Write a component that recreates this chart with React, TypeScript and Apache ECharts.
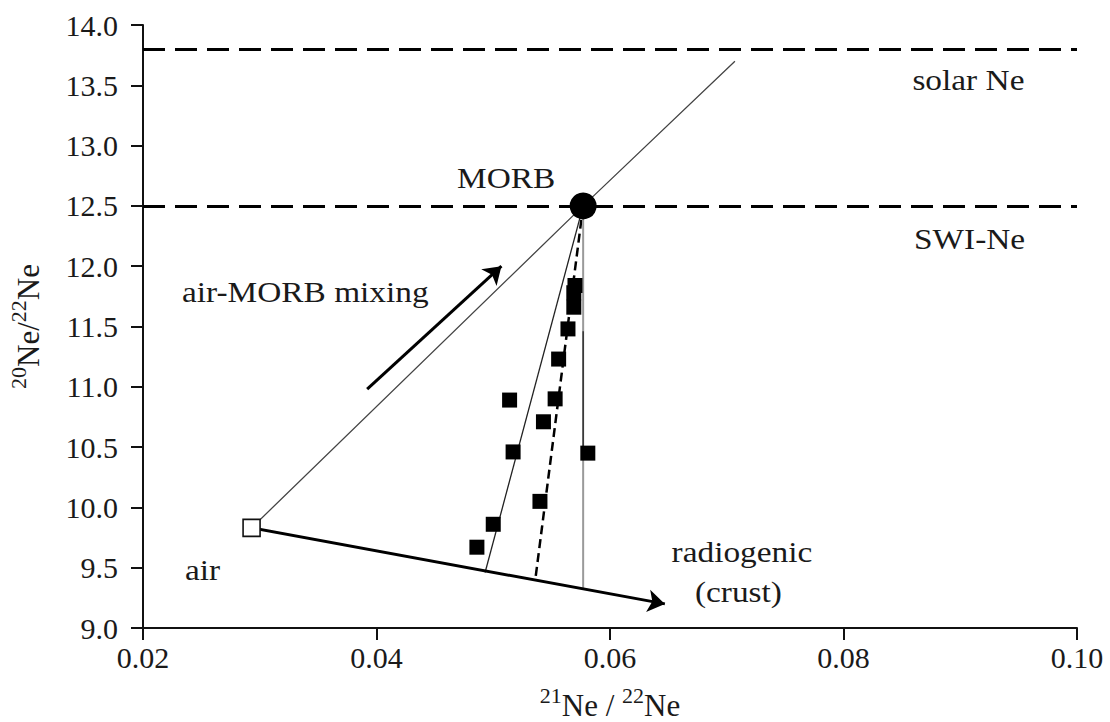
import React, { useEffect, useRef } from "react";
import * as echarts from "echarts";

const FONT = "Liberation Serif";
const TEXT = "#1a1a1a";

// Sample measurements: 21Ne/22Ne (x) and 20Ne/22Ne (y)
const sampleX = [0.057, 0.0569, 0.0569, 0.0564, 0.0556, 0.0553, 0.0514, 0.0543, 0.0517, 0.0581, 0.054, 0.05, 0.0486];
const sampleY = [11.84, 11.78, 11.66, 11.48, 11.23, 10.9, 10.89, 10.71, 10.46, 10.45, 10.05, 9.86, 9.67];

// End-members and reference lines
const morbPoint = [0.0577, 12.5];
const airPoint = [0.0293, 9.83];
const solarNe = 13.8;
const swiNe = 12.5;
const mixingLineEnd = [0.0707, 13.7];
const radiogenicArrowEnd = [0.0647, 9.2];
const mixingArrowStart = [0.0392, 10.98];
const mixingArrowEnd = [0.0507, 12.0];
const solidFanEnd = [0.0493, 9.46];
const dashedFanEnd = [0.0536, 9.4];
const greyFanEnd = [0.0577, 9.33];
const darkSegStart = [0.0577, 11.46];
const darkSegEnd = [0.0577, 10.48];

// Axes
const xMin = 0.02, xMax = 0.1, xStep = 0.02;
const yMin = 9, yMax = 14, yStep = 0.5;

// Annotations (data coordinates of text centres)
const annotations = [
  { text: "solar Ne", at: [0.0907, 13.54] },
  { text: "SWI-Ne", at: [0.0908, 12.22] },
  { text: "MORB", at: [0.0511, 12.73] },
  { text: "air-MORB mixing", at: [0.0339, 11.78] },
  { text: "air", at: [0.0251, 9.48] },
  { text: "radiogenic", at: [0.0713, 9.63] },
  { text: "(crust)", at: [0.071, 9.3] },
];

const samples = sampleX.map((x, i) => [x, sampleY[i]]);

const richName = {
  sup: { fontFamily: FONT, fontSize: 22, color: TEXT, padding: [0, 0, 20, 0] },
  b: { fontFamily: FONT, fontSize: 31, color: TEXT },
};

export default function App() {
  const ref = useRef<HTMLDivElement>(null);
  useEffect(() => {
    document.body.style.margin = "0";
    const chart = echarts.init(ref.current!, null, { renderer: "svg" });
    const option: any = {
      animation: false,
      backgroundColor: "#ffffff",
      grid: { left: 143, right: 33, top: 25, bottom: 94, containLabel: false, outerBoundsMode: "none" },
      xAxis: {
        type: "value",
        min: xMin,
        max: xMax,
        interval: xStep,
        name: "{sup|21}{b|Ne / }{sup|22}{b|Ne}",
        nameLocation: "middle",
        nameGap: 56,
        nameTextStyle: { rich: richName, fontFamily: FONT, fontSize: 31, color: TEXT },
        axisLine: { lineStyle: { color: "#111", width: 2 } },
        axisTick: { length: 12, lineStyle: { color: "#111", width: 2 } },
        splitLine: { show: false },
        axisLabel: {
          formatter: (v: number) => v.toFixed(2),
          fontFamily: FONT,
          fontSize: 30,
          color: TEXT,
          margin: 14,
        },
      },
      yAxis: {
        type: "value",
        min: yMin,
        max: yMax,
        interval: yStep,
        name: "{sup|20}{b|Ne/}{sup|22}{b|Ne}",
        nameLocation: "middle",
        nameGap: 94,
        nameTextStyle: { rich: richName, fontFamily: FONT, fontSize: 31, color: TEXT },
        axisLine: { show: true, lineStyle: { color: "#111", width: 2 } },
        axisTick: { show: true, length: 12, lineStyle: { color: "#111", width: 2 } },
        splitLine: { show: false },
        axisLabel: {
          formatter: (v: number) => v.toFixed(1),
          fontFamily: FONT,
          fontSize: 30,
          color: TEXT,
          margin: 25,
        },
      },
      series: [
        {
          name: "reference",
          type: "line",
          data: [],
          silent: true,
          markLine: {
            silent: true,
            symbol: ["none", "none"],
            label: { show: false },
            lineStyle: { color: "#000", width: 3, type: [22, 10] },
            data: [{ yAxis: solarNe }, { yAxis: swiNe }],
          },
        },
        {
          name: "air-MORB line",
          type: "line",
          data: [airPoint, morbPoint, mixingLineEnd],
          symbol: "none",
          silent: true,
          lineStyle: { color: "#444", width: 1.3 },
          z: 1,
        },
        {
          name: "fan solid",
          type: "line",
          data: [morbPoint, solidFanEnd],
          symbol: "none",
          silent: true,
          lineStyle: { color: "#222", width: 1.3 },
          z: 1,
        },
        {
          name: "fan dashed",
          type: "line",
          data: [morbPoint, dashedFanEnd],
          symbol: "none",
          silent: true,
          lineStyle: { color: "#000", width: 2.5, type: [9, 5] },
          z: 1,
        },
        {
          name: "fan grey",
          type: "line",
          data: [morbPoint, greyFanEnd],
          symbol: "none",
          silent: true,
          lineStyle: { color: "#9a9a9a", width: 2 },
          z: 1,
        },
        {
          name: "fan dark segment",
          type: "line",
          data: [darkSegStart, darkSegEnd],
          symbol: "none",
          silent: true,
          lineStyle: { color: "#222", width: 1.3 },
          z: 1,
        },
        {
          name: "arrows",
          type: "line",
          data: [],
          silent: true,
          markLine: {
            silent: true,
            symbol: ["none", "arrow"],
            symbolSize: 17,
            label: { show: false },
            lineStyle: { color: "#000", width: 3, type: "solid" },
            data: [
              [{ coord: airPoint }, { coord: radiogenicArrowEnd }],
              [{ coord: mixingArrowStart }, { coord: mixingArrowEnd }],
            ],
          },
          z: 2,
        },
        {
          name: "samples",
          type: "scatter",
          data: samples,
          symbol: "rect",
          symbolSize: 15,
          itemStyle: { color: "#000", opacity: 1 },
          z: 5,
        },
        {
          name: "MORB",
          type: "scatter",
          data: [morbPoint],
          symbol: "circle",
          symbolSize: 27,
          itemStyle: { color: "#000", opacity: 1 },
          z: 6,
        },
        {
          name: "air",
          type: "scatter",
          data: [airPoint],
          symbol: "rect",
          symbolSize: 17,
          itemStyle: { color: "#fff", borderColor: "#111", borderWidth: 1.6, opacity: 1 },
          z: 6,
        },
      ],
    };
    chart.setOption(option);
    const graphics = annotations.map((a) => {
      const p = chart.convertToPixel({ gridIndex: 0 }, a.at) as number[];
      return {
        type: "text",
        x: p[0],
        y: p[1],
        scaleX: 1.15,
        silent: true,
        z: 10,
        style: {
          text: a.text,
          fontFamily: FONT,
          fontSize: 29,
          fill: TEXT,
          align: "center",
          verticalAlign: "middle",
        },
      };
    });
    chart.setOption({ graphic: graphics });
    return () => chart.dispose();
  }, []);
  return (
    <div
      ref={ref}
      style={{ position: "absolute", left: 0, top: 0, width: 1110, height: 722 }}
    />
  );
}
